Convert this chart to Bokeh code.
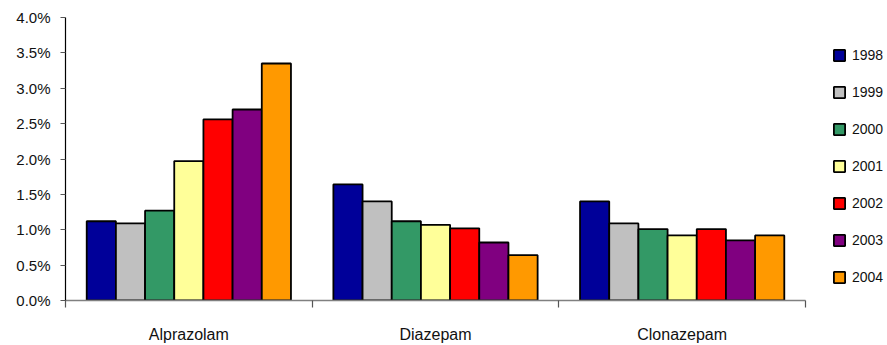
from bokeh.plotting import figure
from bokeh.models import (Range1d, LinearAxis, FixedTicker, PrintfTickFormatter,
                          Legend, LegendItem)
from bokeh.embed import file_html
from bokeh.resources import INLINE

# Share of prescriptions (%) by drug and year
drugs = ["Alprazolam", "Diazepam", "Clonazepam"]
years = ["1998", "1999", "2000", "2001", "2002", "2003", "2004"]
colors = ["#000099", "#C0C0C0", "#339966", "#FFFF99", "#FF0000", "#800080", "#FF9900"]

alprazolam = [1.12, 1.09, 1.27, 1.97, 2.56, 2.70, 3.35]
diazepam = [1.64, 1.40, 1.12, 1.07, 1.02, 0.82, 0.64]
clonazepam = [1.40, 1.09, 1.01, 0.92, 1.01, 0.85, 0.92]

y_ticks = [0, 0.5, 1.0, 1.5, 2.0, 2.5, 3.0, 3.5, 4.0]

series = [alprazolam, diazepam, clonazepam]
FONT = "Liberation Sans"

W, H = 887, 345
LEFT, TOP, BOTTOM = 65, 17, 45
GROUP_PX = 246.67                      # width of one drug group in pixels
n = len(drugs)
x_end = (W - LEFT) / GROUP_PX          # frame runs to the right edge; legend lives there

p = figure(width=W, height=H, output_backend="svg", toolbar_location=None,
           x_range=Range1d(0, x_end), y_range=Range1d(0, 4.0),
           min_border_left=LEFT, min_border_right=0, min_border_top=TOP,
           min_border_bottom=BOTTOM, x_axis_type=None, y_axis_type=None)
p.outline_line_color = None
p.xgrid.visible = False
p.ygrid.visible = False
p.background_fill_color = "white"
p.border_fill_color = "white"

# grouped bars: each year is one renderer so it gets a legend entry
bar_w = 0.828 / len(years)
items = []
for j, (yr, col) in enumerate(zip(years, colors)):
    xs = [g + 0.5 + (j - (len(years) - 1) / 2) * bar_w for g in range(n)]
    tops = [s[j] for s in series]
    r = p.vbar(x=xs, top=tops, width=bar_w, bottom=0, fill_color=col,
               line_color="black", line_width=1.8)
    items.append(LegendItem(label=yr, renderers=[r]))

# y axis with percentage labels
yaxis = LinearAxis(ticker=FixedTicker(ticks=y_ticks),
                   formatter=PrintfTickFormatter(format="%.1f%%"))
yaxis.axis_line_color = "black"
yaxis.axis_line_width = 1.2
yaxis.major_tick_line_color = "#555555"
yaxis.major_tick_out = 5
yaxis.major_tick_in = 0
yaxis.minor_tick_line_color = None
yaxis.major_label_standoff = 10
yaxis.major_label_text_font = FONT
yaxis.major_label_text_font_size = "15px"
yaxis.major_label_text_color = "#111111"
p.add_layout(yaxis, "left")

# x axis: drug names centred under each group, tick marks at group boundaries
xaxis = LinearAxis(
    bounds=(0, n),
    ticker=FixedTicker(ticks=[g + 0.5 for g in range(n)],
                       minor_ticks=list(range(n + 1))),
    major_label_overrides={g + 0.5: d for g, d in enumerate(drugs)})
xaxis.axis_line_color = "#808080"
xaxis.axis_line_width = 1.5
xaxis.major_tick_line_color = None
xaxis.major_tick_out = 6
xaxis.minor_tick_line_color = "#555555"
xaxis.minor_tick_line_width = 1.2
xaxis.minor_tick_out = 7
xaxis.minor_tick_in = 0
xaxis.major_label_standoff = 18
xaxis.major_label_text_font = FONT
xaxis.major_label_text_font_size = "16px"
xaxis.major_label_text_color = "#111111"
p.add_layout(xaxis, "below")

# legend to the right of the bars, placed relative to the frame's bottom-left
legend = Legend(items=items, location=(767, 15))
legend.glyph_width = 14
legend.glyph_height = 14
legend.label_height = 16
legend.spacing = 21
legend.label_standoff = 6
legend.padding = 0
legend.margin = 0
legend.border_line_color = None
legend.background_fill_alpha = 0
legend.label_text_font = FONT
legend.label_text_font_size = "14px"
legend.label_text_color = "#111111"
p.add_layout(legend, "center")

open("out.html", "w").write(file_html(p, INLINE))
